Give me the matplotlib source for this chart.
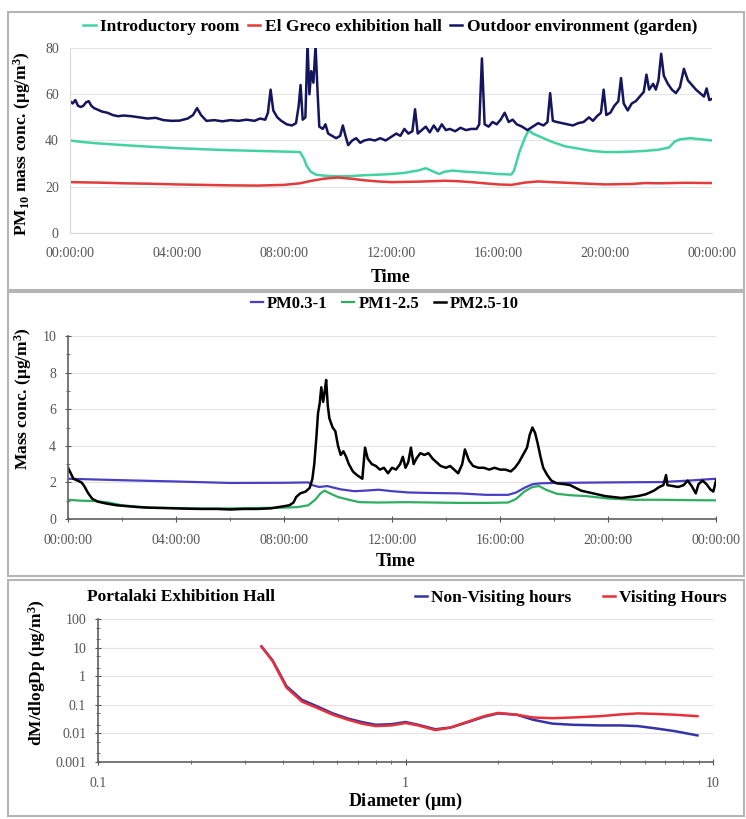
import matplotlib
matplotlib.use('Agg')
import matplotlib.pyplot as plt
from matplotlib.patches import Rectangle
from matplotlib.ticker import FixedLocator, NullFormatter

plt.rcParams['font.family'] = ['Liberation Serif', 'DejaVu Serif']
plt.rcParams['mathtext.fontset'] = 'custom'
plt.rcParams['mathtext.rm'] = 'Liberation Serif:bold'
plt.rcParams['mathtext.it'] = 'Liberation Serif:bold'
plt.rcParams['mathtext.bf'] = 'Liberation Serif:bold'

# ---- panel 1: PM10 in the rooms and outdoors ----
outdoor_h = [0.0, 0.1, 0.2, 0.3, 0.4, 0.5, 0.6, 0.7, 0.8, 0.9, 1.0, 1.2, 1.4, 1.6, 1.8, 2.0, 2.3, 2.6,
             2.9, 3.2, 3.5, 3.8, 4.1, 4.4, 4.6, 4.75, 4.9, 5.1, 5.4, 5.7, 6.0, 6.3, 6.6, 6.9, 7.1, 7.3,
             7.4, 7.5, 7.6, 7.75, 7.9, 8.1, 8.3, 8.45, 8.55, 8.62, 8.7, 8.8, 8.88, 8.95, 9.02, 9.1,
             9.18, 9.26, 9.32, 9.45, 9.55, 9.65, 9.8, 9.95, 10.1, 10.2, 10.3, 10.4, 10.55, 10.7, 10.85,
             11.0, 11.2, 11.4, 11.6, 11.8, 12.0, 12.2, 12.35, 12.5, 12.65, 12.8, 12.9, 13.0, 13.15,
             13.3, 13.45, 13.6, 13.75, 13.9, 14.05, 14.2, 14.4, 14.6, 14.8, 15.0, 15.2, 15.3, 15.4,
             15.5, 15.65, 15.8, 15.95, 16.1, 16.25, 16.4, 16.55, 16.7, 16.9, 17.1, 17.3, 17.5, 17.7,
             17.85, 17.95, 18.05, 18.2, 18.4, 18.6, 18.8, 19.0, 19.2, 19.4, 19.55, 19.7, 19.85, 19.95,
             20.05, 20.2, 20.35, 20.5, 20.6, 20.7, 20.85, 21.0, 21.15, 21.3, 21.45, 21.55, 21.65, 21.8,
             21.9, 22.0, 22.1, 22.2, 22.35, 22.5, 22.65, 22.8, 22.95, 23.1, 23.25, 23.4, 23.55, 23.7,
             23.8, 23.9, 24.0]
outdoor = [57, 56, 57.5, 55, 54.5, 55, 56.5, 57, 55, 54, 53.5, 52.5, 52, 51, 50.5, 50.8, 50.5, 50,
           49.5, 49.8, 48.8, 48.5, 48.6, 49.5, 51, 54, 51, 48.5, 48.8, 48.3, 48.8, 48.5, 49, 48.5, 49.5, 49,
           52, 62, 53, 50, 48.5, 47, 46.5, 47.5, 55, 64, 49, 50, 82, 60, 70, 65,
           81, 60, 46, 45, 47, 43, 42, 41, 42, 46.5, 42, 38, 40, 41, 39,
           40, 40.5, 40, 41, 40, 41.5, 43, 42, 45, 43, 44, 53.5, 43, 44.5,
           46, 43.5, 46.5, 44, 47, 44.5, 45, 44, 45.5, 44.5, 45, 45, 47, 75.5,
           47, 46, 48, 47, 49, 52, 48, 49, 47, 46, 44.5, 46, 47.5, 46.5,
           48, 60.5, 48.5, 48, 47.5, 47, 46.5, 47.5, 48, 50, 48.5, 50.5, 52, 62,
           51, 52, 55, 57, 67, 56, 53, 56, 57, 59, 61, 68.5, 62, 64.5,
           62, 66, 77.5, 68, 64.5, 62, 60.5, 63, 71, 66, 64, 62, 60.5, 59,
           62.5, 57.5, 58]

intro_h = [0, 0.5, 1, 2, 3, 4, 5, 6, 7, 8, 8.6, 8.75, 8.85, 9.0, 9.2, 9.5, 10, 10.5, 11, 11.5, 12,
           12.5, 13, 13.3, 13.6, 13.8, 14.0, 14.3, 14.8, 15.5, 16.0, 16.5, 16.6, 16.8, 17.0, 17.15,
           17.3, 17.6, 18.0, 18.5, 19.0, 19.5, 20.0, 20.5, 21.0, 21.5, 22.0, 22.4, 22.6, 22.8, 23.2,
           23.6, 24.0]
intro = [40, 39.3, 38.8, 38, 37.3, 36.7, 36.2, 35.8, 35.5, 35.2, 35, 32, 29, 26.5, 25.2, 24.8, 24.5,
         24.6, 25, 25.2, 25.5, 26, 27, 28, 26.5, 25.5, 26.5, 27, 26.5, 26, 25.5, 25.3, 27, 35, 41, 44.5,
         43, 41.5, 39.5, 37.5, 36.5, 35.5, 35, 35, 35.2, 35.5, 36, 37, 39.5, 40.5, 41, 40.5, 40]

greco_h = [0, 1, 2, 3, 4, 5, 6, 7, 8, 8.6, 9.0, 9.5, 10, 10.5, 11, 11.5, 12, 13, 14, 14.5, 15, 15.5,
           16, 16.5, 17, 17.5, 18, 19, 20, 21, 21.5, 22, 23, 24]
greco = [22, 21.8, 21.5, 21.3, 21, 20.8, 20.6, 20.5, 20.8, 21.5, 22.5, 23.5, 24, 23.5, 22.8, 22.3, 22,
         22.2, 22.6, 22.4, 22, 21.5, 21, 20.8, 21.8, 22.3, 22, 21.5, 21, 21.2, 21.6, 21.5, 21.7, 21.6]

# ---- panel 2: size fractions in the hall ----
pm25_10_h = [0, 0.1, 0.2, 0.35, 0.5, 0.6, 0.75, 0.9, 1.1, 1.4, 1.8, 2.2, 2.6, 3.0, 3.5, 4, 4.5, 5, 5.5,
             6, 6.5, 7, 7.5, 7.8, 8.0, 8.2, 8.35, 8.45, 8.6, 8.8, 8.95, 9.05, 9.12, 9.2, 9.26, 9.32,
             9.38, 9.45, 9.5, 9.56, 9.62, 9.68, 9.8, 9.9, 10.0, 10.1, 10.2, 10.3, 10.4, 10.55, 10.7,
             10.9, 11.0, 11.1, 11.25, 11.4, 11.55, 11.7, 11.85, 12.0, 12.15, 12.3, 12.4, 12.5, 12.6,
             12.7, 12.8, 12.9, 13.05, 13.2, 13.35, 13.5, 13.65, 13.8, 14.0, 14.15, 14.3, 14.45, 14.6,
             14.7, 14.85, 15.0, 15.2, 15.4, 15.6, 15.8, 16.0, 16.2, 16.4, 16.55, 16.7, 16.85, 17.0,
             17.1, 17.2, 17.3, 17.4, 17.5, 17.6, 17.75, 17.9, 18.1, 18.4, 18.6, 18.8, 19.0, 19.3, 19.6,
             19.9, 20.2, 20.5, 20.8, 21.1, 21.4, 21.7, 21.9, 22.05, 22.15, 22.2, 22.4, 22.6, 22.8,
             22.95, 23.1, 23.25, 23.35, 23.5, 23.65, 23.8, 23.9, 24.0]
pm25_10 = [2.8, 2.5, 2.2, 2.1, 2.0, 1.8, 1.4, 1.1, 0.95, 0.85, 0.75, 0.7, 0.65, 0.62, 0.6, 0.58, 0.56,
           0.55, 0.55, 0.52, 0.55, 0.55, 0.58, 0.65, 0.7, 0.75, 0.9, 1.2, 1.4, 1.5, 1.7, 2.2, 3.0, 4.5,
           5.8, 6.3, 7.2, 6.4, 6.9, 7.6, 6.2, 5.5, 5.0, 4.8, 4.0, 3.5, 3.7, 3.4, 3.0, 2.6, 2.4, 2.2,
           3.9, 3.3, 3.0, 2.9, 2.7, 2.8, 2.5, 2.8, 2.7, 3.0, 3.4, 2.8, 3.1, 3.9, 3.0, 3.3, 3.6, 3.5,
           3.6, 3.3, 3.1, 2.9, 2.8, 2.9, 2.7, 2.5, 3.0, 3.8, 3.2, 2.9, 2.8, 2.8, 2.7, 2.8, 2.7, 2.7,
           2.6, 2.8, 3.1, 3.5, 3.9, 4.6, 5.0, 4.7, 4.1, 3.4, 2.8, 2.4, 2.1, 1.95, 1.9, 1.85, 1.7,
           1.55, 1.45, 1.35, 1.25, 1.2, 1.15, 1.2, 1.25, 1.35, 1.55, 1.75, 1.85, 2.4, 1.85, 1.8, 1.75,
           1.85, 2.1, 1.8, 1.4, 1.9, 2.1, 1.9, 1.6, 1.5, 2.1]

pm03_1_h = [0, 2, 4, 6, 8, 8.9, 9.05, 9.3, 9.6, 10.1, 10.6, 11.0, 11.5, 12.0, 12.6, 13.5, 14.5, 15.5,
            16.3, 16.6, 16.9, 17.2, 17.5, 18, 20, 22, 23, 24]
pm03_1 = [2.2, 2.12, 2.05, 1.97, 1.98, 2.0, 1.85, 1.75, 1.8, 1.62, 1.52, 1.55, 1.6, 1.52, 1.45, 1.42,
          1.4, 1.32, 1.32, 1.45, 1.7, 1.9, 1.95, 1.97, 2.0, 2.02, 2.1, 2.2]

pm1_25_h = [0, 0.5, 1.0, 1.5, 2.0, 3, 4, 5, 6, 7, 8, 8.5, 8.9, 9.15, 9.35, 9.5, 9.7, 10.0, 10.4, 10.8,
            11.5, 12.5, 13.5, 14.5, 15.5, 16.3, 16.6, 16.9, 17.2, 17.45, 17.7, 18.1, 18.6, 19.2, 20,
            21, 22, 23, 24]
pm1_25 = [1.05, 1.0, 0.98, 0.9, 0.75, 0.62, 0.6, 0.57, 0.58, 0.6, 0.62, 0.65, 0.75, 1.05, 1.4, 1.55,
          1.4, 1.2, 1.05, 0.92, 0.9, 0.92, 0.9, 0.88, 0.88, 0.9, 1.1, 1.5, 1.75, 1.8, 1.6, 1.38, 1.3,
          1.25, 1.12, 1.05, 1.05, 1.03, 1.02]

# ---- panel 3: size distribution ----
diameter = [0.34, 0.37, 0.41, 0.46, 0.52, 0.58, 0.65, 0.72, 0.8, 0.9, 1.0, 1.1, 1.25, 1.4, 1.6, 1.8,
            2.0, 2.3, 2.6, 3.0, 3.5, 4.3, 5.0, 5.7, 6.5, 7.5, 8.9]
non_visiting = [11, 3.5, 0.45, 0.15, 0.085, 0.05, 0.033, 0.025, 0.02, 0.021, 0.025, 0.02, 0.014, 0.016,
                0.025, 0.038, 0.05, 0.045, 0.03, 0.022, 0.02, 0.019, 0.019, 0.018, 0.015, 0.012, 0.0085]
visiting = [11, 3.3, 0.4, 0.13, 0.075, 0.045, 0.03, 0.022, 0.018, 0.019, 0.023, 0.019, 0.013, 0.016,
            0.026, 0.04, 0.052, 0.045, 0.036, 0.034, 0.036, 0.04, 0.046, 0.05, 0.048, 0.045, 0.04]

hour_ticks = [0, 4, 8, 12, 16, 20, 24]
time_labels = ['00:00:00', '04:00:00', '08:00:00', '12:00:00', '16:00:00', '20:00:00', '00:00:00']

tick_color = '#555555'
grid_color = '#e4e4e4'
bold = {'weight': 'bold'}
tick_size = 10

fig = plt.figure(figsize=(7.46, 8.19), dpi=100)

# panel frames
for y0, h in [(0.6459, 0.3394), (0.2967, 0.3468), (0.0037, 0.2880)]:
    fig.patches.append(Rectangle((0.0107, y0), 0.9866, h, transform=fig.transFigure,
                                 fill=False, edgecolor='#b5b5b5', linewidth=1.5))

# panel 1
ax1 = fig.add_axes([0.0938, 0.7155, 0.8606, 0.2259])
ax1.plot(intro_h, intro, color='#43d3a2', lw=1.8, label='Introductory room')
ax1.plot(greco_h, greco, color='#e23b3b', lw=1.8, label='El Greco exhibition hall')
ax1.plot(outdoor_h, outdoor, color='#15155e', lw=1.8, label='Outdoor environment (garden)')
ax1.set_xlim(0, 24)
ax1.set_ylim(0, 80)
ax1.set_yticks([0, 20, 40, 60, 80])
ax1.set_xticks(hour_ticks)
ax1.set_xticklabels(time_labels)
ax1.grid(axis='y', color=grid_color, lw=0.8)
ax1.set_axisbelow(True)
for s in ['top', 'right']:
    ax1.spines[s].set_visible(False)
for s in ['left', 'bottom']:
    ax1.spines[s].set_color('#d8d8d8')
ax1.tick_params(length=0, labelsize=tick_size, colors=tick_color)
ax1.tick_params(axis='x', pad=10)
ax1.tick_params(axis='y', pad=8)
ax1.legend(loc='center', bbox_to_anchor=(0.523, 0.967), bbox_transform=fig.transFigure, ncol=3,
           frameon=False, handlelength=0.7, handletextpad=0.25, columnspacing=0.5,
           prop={'weight': 'bold', 'size': 12.5})
fig.text(0.523, 0.661, 'Time', ha='center', va='center', fontsize=13, fontdict=bold)
fig.text(0.030, 0.825, r'PM$_{10}$ mass conc. ($\mathregular{\mu}$g/m$^3$)', rotation=90,
         ha='center', va='center', fontsize=12.5, fontdict=bold)

# panel 2
ax2 = fig.add_axes([0.0912, 0.3663, 0.8686, 0.2234])
ax2.plot(pm03_1_h, pm03_1, color='#4a3fc4', lw=1.6, label='PM0.3-1')
ax2.plot(pm1_25_h, pm1_25, color='#2fae62', lw=1.6, label='PM1-2.5')
ax2.plot(pm25_10_h, pm25_10, color='#000000', lw=1.8, label='PM2.5-10')
ax2.set_xlim(0, 24)
ax2.set_ylim(0, 10)
ax2.set_yticks([0, 2, 4, 6, 8, 10])
ax2.yaxis.set_minor_locator(FixedLocator([1, 3, 5, 7, 9]))
ax2.set_xticks(hour_ticks)
ax2.set_xticklabels(time_labels)
ax2.xaxis.set_minor_locator(FixedLocator([2, 6, 10, 14, 18, 22]))
ax2.grid(axis='y', color=grid_color, lw=0.8)
ax2.set_axisbelow(True)
for s in ['top', 'right']:
    ax2.spines[s].set_visible(False)
for s in ['left', 'bottom']:
    ax2.spines[s].set_color('#606060')
    ax2.spines[s].set_linewidth(1.2)
ax2.tick_params(which='both', direction='inout', colors=tick_color, labelsize=tick_size)
ax2.tick_params(which='major', length=5)
ax2.tick_params(which='minor', length=3)
ax2.tick_params(axis='x', pad=8)
ax2.tick_params(axis='y', pad=6)
ax2.legend(loc='center', bbox_to_anchor=(0.516, 0.629), bbox_transform=fig.transFigure, ncol=3,
           frameon=False, handlelength=0.7, handletextpad=0.25, columnspacing=0.9,
           prop={'weight': 'bold', 'size': 12})
fig.text(0.53, 0.314, 'Time', ha='center', va='center', fontsize=13, fontdict=bold)
fig.text(0.031, 0.513, r'Mass conc. ($\mathregular{\mu}$g/m$^3$)', rotation=90,
         ha='center', va='center', fontsize=12.5, fontdict=bold)

# panel 3
ax3 = fig.add_axes([0.1314, 0.0696, 0.8244, 0.1746])
ax3.plot(diameter, non_visiting, color='#3434a8', lw=1.8, label='Non-Visiting hours')
ax3.plot(diameter, visiting, color='#e8303a', lw=1.8, label='Visiting Hours')
ax3.set_xscale('log')
ax3.set_yscale('log')
ax3.set_xlim(0.1, 10)
ax3.set_ylim(0.001, 100)
ax3.set_xticks([0.1, 1, 10])
ax3.set_xticklabels(['0.1', '1', '10'])
ax3.set_yticks([0.001, 0.01, 0.1, 1, 10, 100])
ax3.set_yticklabels(['0.001', '0.01', '0.1', '1', '10', '100'])
ax3.yaxis.set_minor_locator(FixedLocator([0.002, 0.005, 0.02, 0.05, 0.2, 0.5, 2, 5, 20, 50]))
ax3.yaxis.set_minor_formatter(NullFormatter())
ax3.xaxis.set_minor_formatter(NullFormatter())
ax3.grid(axis='y', which='major', color=grid_color, lw=0.8)
ax3.set_axisbelow(True)
for s in ['top', 'right']:
    ax3.spines[s].set_visible(False)
for s in ['left', 'bottom']:
    ax3.spines[s].set_color('#606060')
    ax3.spines[s].set_linewidth(1.2)
ax3.tick_params(which='both', direction='inout', colors=tick_color, labelsize=tick_size)
ax3.tick_params(which='major', length=5)
ax3.tick_params(which='minor', length=3)
ax3.tick_params(axis='x', pad=8)
ax3.tick_params(axis='y', pad=6)
ax3.legend(loc='center', bbox_to_anchor=(0.765, 0.270), bbox_transform=fig.transFigure, ncol=2,
           frameon=False, handlelength=0.7, handletextpad=0.25, columnspacing=1.8,
           prop={'weight': 'bold', 'size': 12.5})
fig.text(0.117, 0.271, 'Portalaki Exhibition Hall', ha='left', va='center', fontsize=12.5,
         fontdict=bold)
fig.text(0.543, 0.021, r'Diameter ($\mathregular{\mu}$m)', ha='center', va='center', fontsize=13,
         fontdict=bold)
fig.text(0.050, 0.178, r'dM/dlogDp ($\mathregular{\mu}$g/m$^3$)', rotation=90, ha='center',
         va='center', fontsize=12.5, fontdict=bold)

fig.savefig('out.png', dpi=100)
